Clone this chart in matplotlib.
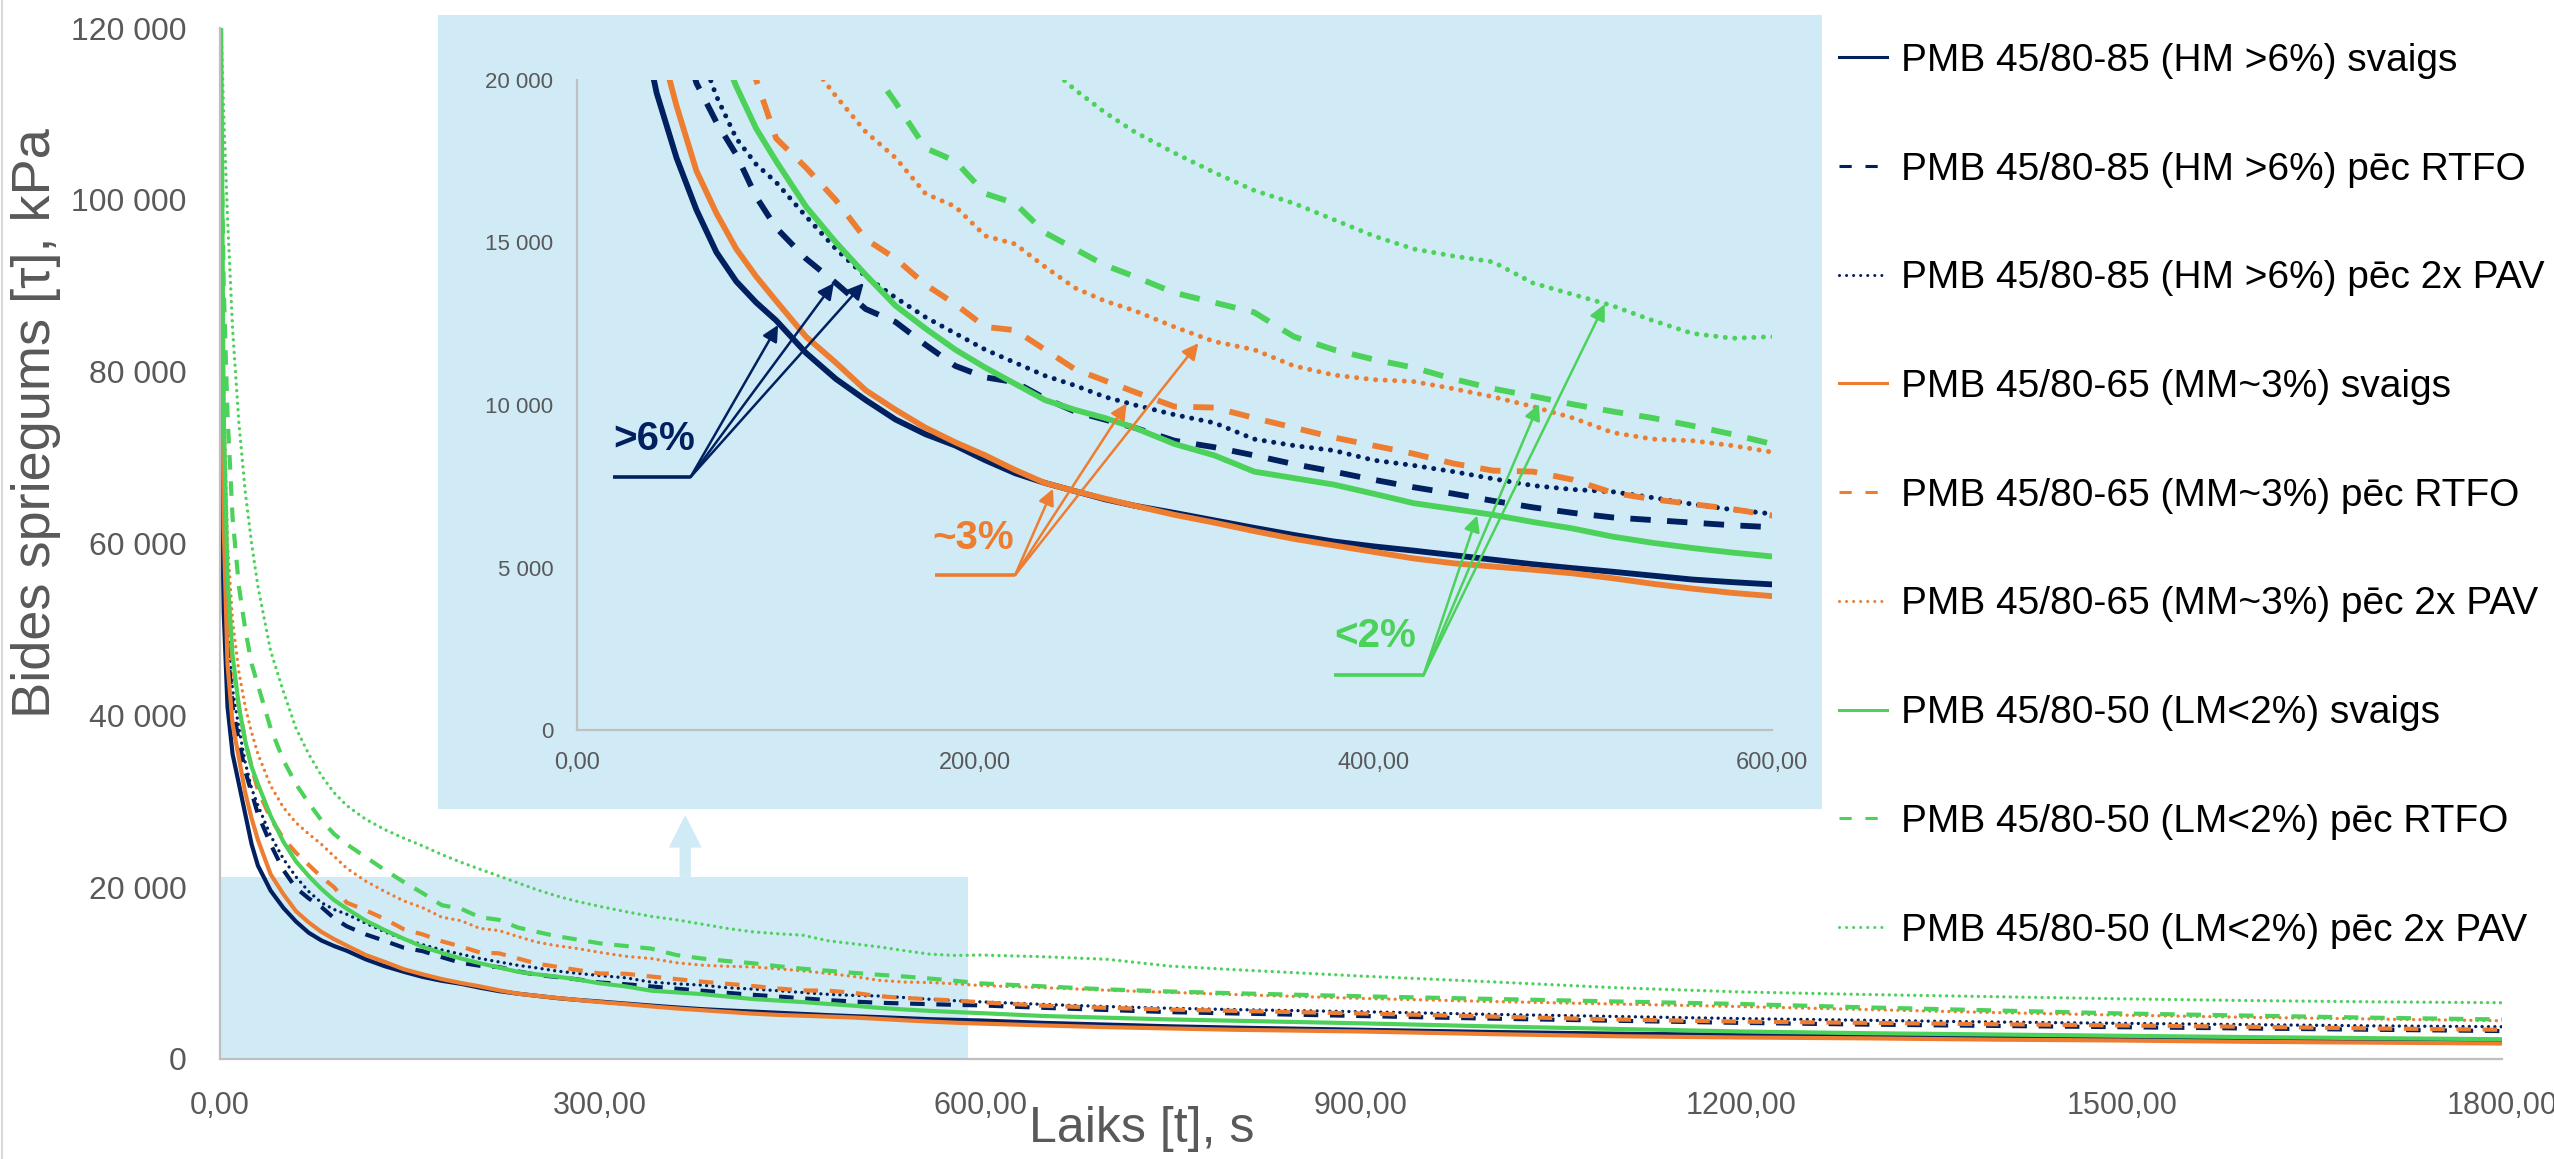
import matplotlib.pyplot as plt
from matplotlib.patches import Rectangle
from matplotlib.lines import Line2D
from matplotlib.ticker import FuncFormatter, FixedLocator

plt.rcParams['font.family'] = ['Liberation Sans', 'DejaVu Sans']

# Laiks, s
t = [1, 3, 6, 10, 15, 20, 25, 30, 40, 50, 60, 70, 80, 90, 100,
     115, 130, 145, 160, 175, 190, 205, 220, 235, 250, 265, 280,
     300, 320, 340, 360, 380, 400, 420, 440, 460, 480, 500, 520, 540, 560, 580, 600,
     650, 700, 750, 800, 900, 1000, 1100, 1200, 1300, 1400, 1500, 1600, 1700, 1800]

# Bides spriegums, tūkst. kPa (nolasīts no attēla)
hm_svaigs = [70, 52, 41, 35.5, 32, 28.5, 25, 22.5, 19.6, 17.6, 16.0, 14.7, 13.8, 13.15, 12.6,
             11.6, 10.8, 10.15, 9.55, 9.1, 8.75, 8.3, 7.9, 7.6, 7.35, 7.1, 6.9,
             6.68, 6.45, 6.22, 6.0, 5.8, 5.65, 5.52, 5.38, 5.24, 5.1, 4.98, 4.87, 4.75, 4.63, 4.55, 4.48,
             4.2, 4.0, 3.8, 3.65, 3.4, 3.15, 2.95, 2.8, 2.65, 2.5, 2.4, 2.3, 2.2, 2.1]
hm_rtfo = [85, 60, 48, 41, 37, 33.5, 31, 28.5, 25, 22, 19.9, 18.7, 17.7, 16.4, 15.45,
           14.5, 13.75, 12.95, 12.55, 11.85, 11.2, 10.85, 10.7, 10.2, 9.8, 9.55, 9.3,
           8.9, 8.7, 8.45, 8.18, 7.95, 7.7, 7.47, 7.27, 7.05, 6.85, 6.68, 6.54, 6.46, 6.38, 6.3, 6.24,
           5.95, 5.7, 5.45, 5.3, 5.0, 4.7, 4.45, 4.2, 4.0, 3.85, 3.7, 3.55, 3.4, 3.25]
hm_pav = [90, 64, 50, 43, 38.5, 34.5, 31.5, 29.5, 26, 23.3, 21.2, 19.5, 18.2, 17.4, 16.85,
          15.8, 14.8, 13.95, 13.3, 12.7, 12.2, 11.7, 11.3, 10.9, 10.6, 10.25, 10.0,
          9.7, 9.45, 8.95, 8.75, 8.6, 8.3, 8.14, 7.95, 7.73, 7.52, 7.4, 7.33, 7.15, 6.95, 6.78, 6.65,
          6.35, 6.1, 5.9, 5.75, 5.5, 5.2, 4.95, 4.7, 4.5, 4.3, 4.15, 4.0, 3.85, 3.75]
mm_svaigs = [95, 62, 46, 39, 35, 31, 28, 25.5, 21.5, 19.2, 17.2, 15.9, 14.8, 13.95, 13.2,
             12.1, 11.3, 10.45, 9.85, 9.3, 8.85, 8.45, 8.0, 7.6, 7.35, 7.12, 6.9,
             6.62, 6.38, 6.12, 5.88, 5.68, 5.48, 5.28, 5.13, 5.03, 4.93, 4.82, 4.67, 4.5, 4.35, 4.22, 4.12,
             3.9, 3.7, 3.55, 3.4, 3.2, 2.9, 2.65, 2.5, 2.4, 2.25, 2.15, 2.0, 1.9, 1.8]
mm_rtfo = [100, 70, 54, 46, 41, 37, 34, 31.3, 28, 25.7, 24, 22.6, 21.2, 20.0, 18.2,
           17.3, 16.3, 15.1, 14.5, 13.7, 13.1, 12.4, 12.3, 11.7, 11.1, 10.75, 10.4,
           9.95, 9.92, 9.6, 9.3, 9.0, 8.75, 8.5, 8.2, 7.98, 7.95, 7.7, 7.3, 7.1, 6.95, 6.8, 6.6,
           6.2, 5.95, 5.75, 5.6, 5.3, 4.95, 4.6, 4.35, 4.2, 4.05, 3.9, 3.75, 3.55, 3.4]
mm_pav = [105, 78, 60, 51, 45, 41, 38, 35.5, 31.8, 29.3, 27.5, 26.2, 25.0, 23.6, 22.2,
          20.7, 19.5, 18.4, 17.6, 16.5, 16.1, 15.2, 14.95, 14.25, 13.6, 13.2, 12.9,
          12.4, 11.95, 11.7, 11.2, 10.92, 10.78, 10.72, 10.5, 10.25, 9.95, 9.6, 9.15, 8.95, 8.9, 8.75, 8.55,
          8.3, 8.0, 7.75, 7.5, 7.05, 6.7, 6.4, 6.1, 5.75, 5.4, 5.1, 4.85, 4.65, 4.45]
lm_svaigs = [120, 75, 56, 47, 41, 37, 34, 32, 28.3, 25.3, 23, 21.3, 19.8, 18.5, 17.5,
             16.1, 15.0, 14.0, 13.05, 12.35, 11.7, 11.15, 10.65, 10.15, 9.85, 9.6, 9.3,
             8.8, 8.45, 7.95, 7.75, 7.55, 7.27, 6.98, 6.8, 6.62, 6.4, 6.2, 5.95, 5.76, 5.6, 5.46, 5.34,
             5.0, 4.8, 4.6, 4.45, 4.15, 3.8, 3.5, 3.2, 3.0, 2.85, 2.7, 2.55, 2.42, 2.3]
lm_rtfo = [110, 90, 75, 63, 55, 50, 46, 43.5, 38.5, 34.8, 32, 29.8, 27.8, 26.2, 25,
           23.5, 22.0, 20.6, 19.3, 17.9, 17.5, 16.5, 16.2, 15.3, 14.8, 14.3, 13.95,
           13.45, 13.15, 12.85, 12.1, 11.7, 11.4, 11.15, 10.8, 10.5, 10.27, 10.02, 9.8, 9.6, 9.36, 9.1, 8.8,
           8.45, 8.1, 7.85, 7.65, 7.3, 7.0, 6.7, 6.4, 6.0, 5.65, 5.3, 5.05, 4.8, 4.6]
lm_pav = [120, 110, 98, 85, 74, 66, 60, 55, 47.5, 42.8, 38.5, 35.5, 33.0, 31.0, 29.5,
          27.9, 26.7, 25.7, 24.8, 23.8, 22.9, 22.1, 21.3, 20.5, 19.7, 19.0, 18.4,
          17.75, 17.15, 16.6, 16.2, 15.7, 15.2, 14.8, 14.58, 14.4, 13.75, 13.4, 13.05, 12.6, 12.2, 12.05, 12.1,
          11.9, 11.6, 10.8, 10.4, 9.65, 9.0, 8.3, 7.8, 7.5, 7.25, 7.0, 6.8, 6.65, 6.55]

NAVY = "#002060"
ORANGE = "#ED7D31"
GREEN = "#4CD25A"
BLUE = "#D0EBF6"
GRAY = "#595959"
AXIS = "#BFBFBF"

series = [
    ("PMB 45/80-85 (HM >6%) svaigs", hm_svaigs, NAVY, "solid"),
    ("PMB 45/80-85 (HM >6%) pēc RTFO", hm_rtfo, NAVY, "dashed"),
    ("PMB 45/80-85 (HM >6%) pēc 2x PAV", hm_pav, NAVY, "dotted"),
    ("PMB 45/80-65 (MM~3%) svaigs", mm_svaigs, ORANGE, "solid"),
    ("PMB 45/80-65 (MM~3%) pēc RTFO", mm_rtfo, ORANGE, "dashed"),
    ("PMB 45/80-65 (MM~3%) pēc 2x PAV", mm_pav, ORANGE, "dotted"),
    ("PMB 45/80-50 (LM<2%) svaigs", lm_svaigs, GREEN, "solid"),
    ("PMB 45/80-50 (LM<2%) pēc RTFO", lm_rtfo, GREEN, "dashed"),
    ("PMB 45/80-50 (LM<2%) pēc 2x PAV", lm_pav, GREEN, "dotted"),
]

dash = {"solid": "-", "dashed": (0, (3.5, 2.8)), "dotted": (0, (0.01, 1.9))}
cap = {"solid": "butt", "dashed": "butt", "dotted": "round"}


def kpa_fmt(v, pos):
    return f"{int(round(v)):,}".replace(",", " ")


def sec_fmt(v, pos):
    return f"{v:.2f}".replace(".", ",")


def style_axes(a, xsize, ysize, ypad, xpad):
    for s in ["top", "right"]:
        a.spines[s].set_visible(False)
    for s in ["left", "bottom"]:
        a.spines[s].set_color(AXIS)
        a.spines[s].set_linewidth(1.6)
    a.tick_params(length=0, labelcolor=GRAY)
    a.tick_params(axis="y", pad=ypad, labelsize=ysize)
    a.tick_params(axis="x", pad=xpad, labelsize=xsize)
    a.yaxis.set_major_formatter(FuncFormatter(kpa_fmt))
    a.xaxis.set_major_formatter(FuncFormatter(sec_fmt))


fig = plt.figure(figsize=(25.54, 11.59), dpi=100)

# galvenais grafiks
ax = fig.add_axes([0.0861, 0.0863, 0.8936, 0.8895])
for label, vals, color, ls in series:
    lw = 2.4 if ls == "dotted" else 3.0
    ax.plot(t, [v * 1000 for v in vals], color=color, linestyle=dash[ls], lw=lw,
            dash_capstyle=cap[ls], zorder=2)
ax.set_xlim(0, 1800)
ax.set_ylim(0, 120000)
ax.xaxis.set_major_locator(FixedLocator([0, 300, 600, 900, 1200, 1500, 1800]))
ax.yaxis.set_major_locator(FixedLocator([0, 20000, 40000, 60000, 80000, 100000, 120000]))
style_axes(ax, 22, 23, 24, 23)

# palielinātais apgabals un bultiņa uz ieliktni
ax.add_patch(Rectangle((0, 0), 590, 21200, facecolor=BLUE, edgecolor="none", zorder=0))
ax.arrow(367, 21200, 0, 7200, width=9, head_width=26, head_length=3800,
         length_includes_head=True, facecolor=BLUE, edgecolor="none", zorder=0)
ax.add_patch(Rectangle((0.1715, 0.302), 0.5419, 0.685, transform=fig.transFigure,
                       facecolor=BLUE, edgecolor="none", zorder=5, clip_on=False))

fig.text(0.0141, 0.635, "Bides spriegums [τ], kPa", rotation=90, ha="center", va="center",
         fontsize=39, color=GRAY)
fig.text(0.447, 0.026, "Laiks [t], s", ha="center", va="center", fontsize=36, color=GRAY)

# ieliktnis 0-600 s
ax_in = fig.add_axes([0.2259, 0.3701, 0.4679, 0.561])
ax_in.set_facecolor("none")
for label, vals, color, ls in series:
    lw = 3.6 if ls == "dotted" else 4.2
    ax_in.plot(t, [v * 1000 for v in vals], color=color, linestyle=dash[ls], lw=lw,
               dash_capstyle=cap[ls])
ax_in.set_xlim(0, 600)
ax_in.set_ylim(0, 20000)
ax_in.xaxis.set_major_locator(FixedLocator([0, 200, 400, 600]))
ax_in.yaxis.set_major_locator(FixedLocator([0, 5000, 10000, 15000, 20000]))
style_axes(ax_in, 17, 16, 17, 16)

# uzraksti ar bultiņām
notes = [
    (">6%", NAVY, (39, 8950), (18, 57, 7780), [(101, 12460), (129, 13750), (144, 13750)]),
    ("~3%", ORANGE, (199, 5920), (180, 220, 4770), [(239, 7420), (276, 10050), (312, 11900)]),
    ("<2%", GREEN, (401, 2890), (380, 425, 1680), [(452, 6600), (483, 10030), (516, 13100)]),
]
for text, color, pos, base, tips in notes:
    ax_in.text(pos[0], pos[1], text, color=color, fontsize=29, fontweight="bold",
               ha="center", va="center")
    ax_in.plot([base[0], base[1]], [base[2], base[2]], color=color, lw=2.6,
               solid_capstyle="butt")
    for tip in tips:
        ax_in.annotate("", xy=tip, xytext=(base[1], base[2]),
                       arrowprops=dict(arrowstyle="-|>", color=color, lw=1.8,
                                       mutation_scale=24, shrinkA=0, shrinkB=0))

# leģenda
leg_dash = {"solid": "-", "dashed": (0, (4, 4.5)), "dotted": (0, (0.01, 2.3))}
handles = [Line2D([], [], color=c, linestyle=leg_dash[ls], lw=2.2, dash_capstyle=cap[ls])
           for _, _, c, ls in series]
fig.legend(handles, [s[0] for s in series], loc="upper left", bbox_to_anchor=(0.720, 0.963),
           frameon=False, fontsize=28, handlelength=1.25, handletextpad=0.36,
           labelspacing=1.87, borderpad=0, borderaxespad=0)

fig.add_artist(Line2D([0.0008, 0.0008], [0, 1], color="#D9D9D9", lw=1.5))

fig.savefig("out.png", dpi=100)
